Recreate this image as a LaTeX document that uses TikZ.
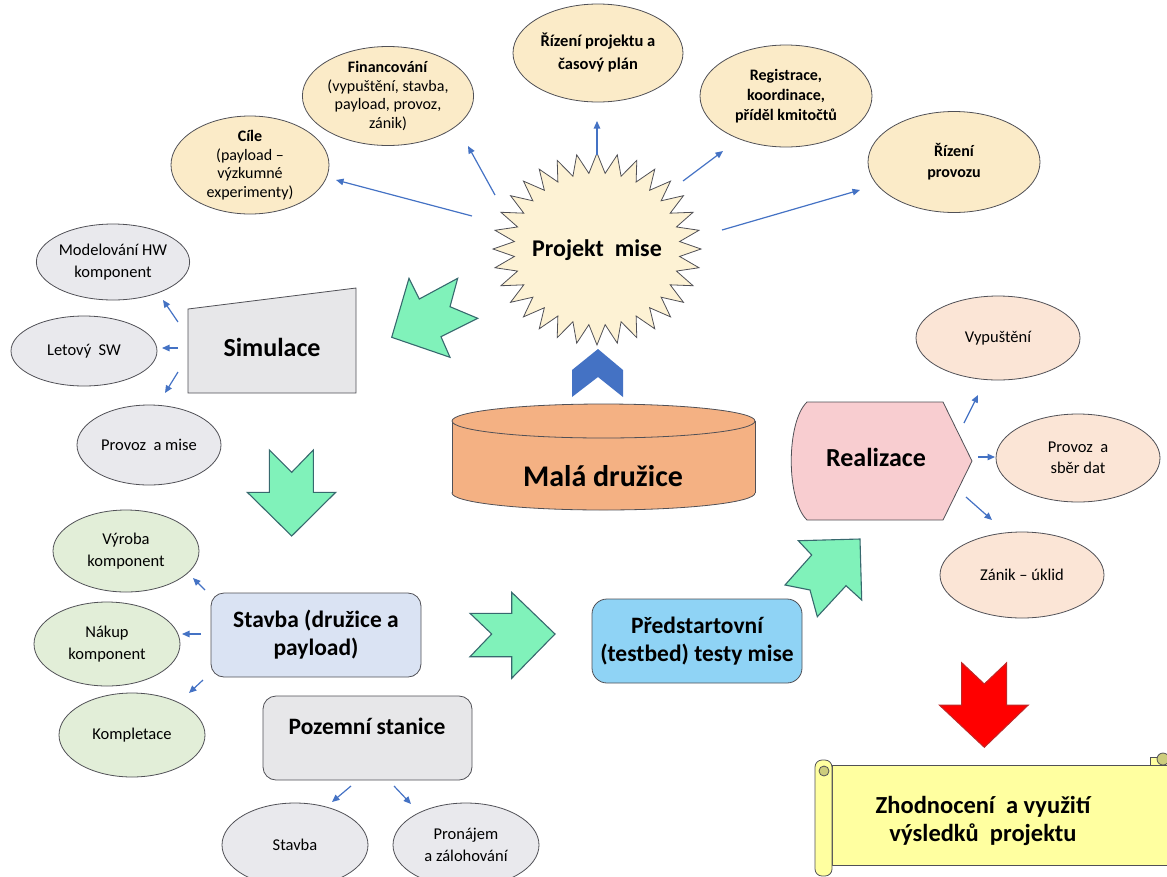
\documentclass[tikz,border=0pt]{standalone}
\usepackage{fontspec}
\setmainfont{Carlito}
\usetikzlibrary{shapes.geometric,arrows.meta}

\definecolor{ink}{RGB}{80,80,86}
\definecolor{pale}{RGB}{251,235,200}
\definecolor{starfill}{RGB}{253,242,212}
\definecolor{linkblue}{RGB}{68,114,196}
\definecolor{greyfill}{RGB}{233,233,237}
\definecolor{greenfill}{RGB}{226,238,216}
\definecolor{peach}{RGB}{251,229,214}
\definecolor{mint}{RGB}{128,242,186}
\definecolor{mintedge}{RGB}{55,105,110}
\definecolor{drum}{RGB}{244,177,131}
\definecolor{boxblue}{RGB}{218,227,243}
\definecolor{boxgrey}{RGB}{231,231,233}
\definecolor{sky}{RGB}{143,211,245}
\definecolor{rose}{RGB}{248,205,208}
\definecolor{scrollfill}{RGB}{255,255,160}
\definecolor{scrolldark}{RGB}{205,205,125}
\definecolor{alarm}{RGB}{255,0,0}
\definecolor{alarmedge}{RGB}{190,40,40}

\tikzset{
  oval/.style={ellipse, draw=ink, line width=0.8pt, inner sep=0pt, align=center},
  topoval/.style={oval, fill=pale, font=\fontsize{16}{18.5}\selectfont},
  greyoval/.style={oval, fill=greyfill, font=\fontsize{16.5}{22}\selectfont},
  greenoval/.style={oval, fill=greenfill, font=\fontsize{16.5}{22}\selectfont},
  peachoval/.style={oval, fill=peach, font=\fontsize{16.5}{21}\selectfont},
  panel/.style={draw=ink, line width=0.8pt, rounded corners=13pt, inner sep=0pt, align=center},
  biglabel/.style={font=\fontsize{23.5}{28}\selectfont\bfseries, align=center},
  link/.style={linkblue, line width=1.2pt, -{Triangle[length=7.5pt,width=6.5pt]}},
  notched/.style={fill=mint, draw=mintedge, line width=1.1pt, line join=miter},
}

\begin{document}
\begin{tikzpicture}[x=1pt,y=-1pt]
\useasboundingbox (0,0) rectangle (1167,876);
\clip (0,0) rectangle (1167,876);

% ---------- mission project (star) and its topics ----------
\draw[draw=ink, line width=0.8pt, fill=starfill, line join=miter]
  plot[samples=65, domain=0:64, variable=\k]
  ({597+(104-21*mod(round(\k),2))*cos(\k*5.625)},
   {249+(96-20*mod(round(\k),2))*sin(\k*5.625)}) -- cycle;
\node[font=\fontsize{24}{28}\selectfont\bfseries] (proj) at (597,250) {Projekt\ \ mise};

\node[topoval, minimum width=158pt, minimum height=94pt] (cile) at (250,165)
  {\textbf{Cíle}\\(payload –\\výzkumné\\experimenty)};
\node[topoval, minimum width=146pt, minimum height=99pt] (fin) at (388,96)
  {\textbf{Financování}\\(vypuštění, stavba,\\payload, provoz,\\zánik)};
\node[topoval, minimum width=170pt, minimum height=98pt, font=\fontsize{16.5}{23}\selectfont\bfseries] (rprj) at (598,53)
  {Řízení projektu a\\časový plán};
\node[topoval, minimum width=172pt, minimum height=102pt, font=\fontsize{16}{20}\selectfont\bfseries] (reg) at (786,96)
  {Registrace,\\koordinace,\\příděl kmitočtů};
\node[topoval, minimum width=172pt, minimum height=101pt, font=\fontsize{16}{21}\selectfont\bfseries] (rprov) at (954,162)
  {Řízení\\provozu};

\coordinate (s1) at (472,216); \coordinate (e1) at (336,180);
\coordinate (s2) at (495,195); \coordinate (e2) at (468,146);
\coordinate (s3) at (597,155); \coordinate (e3) at (597,121);
\coordinate (s4) at (683,181); \coordinate (e4) at (723,151);
\coordinate (s5) at (722,230); \coordinate (e5) at (860,190);
\draw[link] (s1) -- (e1);
\draw[link] (s2) -- (e2);
\draw[link] (s3) -- (e3);
\draw[link] (s4) -- (e4);
\draw[link] (s5) -- (e5);

% ---------- small satellite (drum) ----------
\fill[linkblue] (572,370) -- (598,349) -- (623,370) -- (623,397) -- (598,377) -- (572,397) -- cycle;
\draw[draw=ink, line width=0.8pt, fill=drum] (603.5,493) ellipse [x radius=151.5pt, y radius=17pt];
\fill[drum] (452,421) rectangle (755,493);
\draw[ink, line width=0.8pt] (452,421) -- (452,493) (755,421) -- (755,493);
\draw[draw=ink, line width=0.8pt, fill=drum] (603.5,421) ellipse [x radius=151.5pt, y radius=17pt];
\node[font=\fontsize{30}{34}\selectfont\bfseries] (sat) at (603,476) {Malá družice};

% ---------- simulation ----------
\draw[notched] (391.7,337.3) -- (409,278.3) -- (419.3,299) -- (457.7,278.3) -- (450,306.7)
  -- (477.7,318.3) -- (441,336.7) -- (450,357.3) -- cycle;
\draw[draw=ink, line width=0.8pt, fill=boxgrey] (188,309) -- (356,288) -- (356,393) -- (188,393) -- cycle;
\node[font=\fontsize{26}{30}\selectfont\bfseries] (sim) at (272,347) {Simulace};

\node[greyoval, minimum width=140pt, minimum height=76pt] (model) at (113,262) {Modelování HW\\komponent};
\node[greyoval, minimum width=146pt, minimum height=70pt] (letovy) at (84,351) {Letový\ \ SW};
\node[greyoval, minimum width=144pt, minimum height=80pt] (pmise) at (149,445) {Provoz\ \ a mise};

\coordinate (m1) at (178,322); \coordinate (n1) at (163,300);
\coordinate (m2) at (178,348); \coordinate (n2) at (162,348);
\coordinate (m3) at (178,372); \coordinate (n3) at (165,393);
\draw[link] (m1) -- (n1);
\draw[link] (m2) -- (n2);
\draw[link] (m3) -- (n3);

\draw[notched] (269.3,450) -- (291.7,472.3) -- (313.3,450) -- (313.3,492.3) -- (335.7,492.3)
  -- (291.7,536) -- (247.3,492.3) -- (269.3,492.3) -- cycle;

% ---------- construction ----------
\node[panel, fill=boxblue, minimum width=210pt, minimum height=84pt, biglabel] (stavba) at (316,635)
  {Stavba (družice a\\payload)};
\node[greenoval, minimum width=146pt, minimum height=82pt] (vyroba) at (126,551) {Výroba\\komponent};
\node[greenoval, minimum width=146pt, minimum height=84pt] (nakup) at (107,644) {Nákup\\komponent};
\node[greenoval, minimum width=146pt, minimum height=84pt] (kompl) at (132,735) {Kompletace};

\coordinate (b1) at (205,590); \coordinate (c1) at (193,578);
\coordinate (b2) at (201,634); \coordinate (c2) at (182,634);
\coordinate (b3) at (203,680); \coordinate (c3) at (189,693);
\draw[link] (b1) -- (c1);
\draw[link] (b2) -- (c2);
\draw[link] (b3) -- (c3);

% ---------- ground station ----------
\node[panel, fill=boxgrey, minimum width=209pt, minimum height=84pt] (pozemni) at (367.5,738) {};
\node[biglabel] (pozlabel) at (367,726) {Pozemní stanice};
\node[greyoval, minimum width=146pt, minimum height=84pt] (stavba2) at (295,845) {Stavba};
\node[greyoval, minimum width=146pt, minimum height=84pt] (pronajem) at (466,845) {Pronájem\\a zálohování};

\coordinate (g1) at (351,786); \coordinate (h1) at (332,802);
\coordinate (g2) at (394,786); \coordinate (h2) at (411,804);
\draw[link] (g1) -- (h1);
\draw[link] (g2) -- (h2);

% ---------- pre-launch tests ----------
\draw[notched] (470,613.3) -- (511.7,613.3) -- (511.7,592.3) -- (555,634) -- (511.7,678.3)
  -- (511.7,656.7) -- (470,656.7) -- (491.7,634) -- cycle;
\node[panel, fill=sky, rounded corners=15pt, minimum width=210pt, minimum height=84pt, biglabel] (testy) at (697,641)
  {Předstartovní\\(testbed) testy mise};
\draw[notched] (798.3,540.7) -- (860,539) -- (861.7,600) -- (846,585.7) -- (817.3,616.7)
  -- (810,590) -- (785,585) -- (811.7,555) -- cycle;

% ---------- realisation ----------
\draw[draw=ink, line width=0.8pt, fill=rose] (807,402) -- (943,402) -- (972,461) -- (943,520) -- (807,520)
  .. controls (786,500) and (786,422) .. (807,402) -- cycle;
\node[font=\fontsize{26}{30}\selectfont\bfseries] (real) at (876,457) {Realizace};

\node[peachoval, minimum width=164pt, minimum height=84pt] (vyp) at (998,338) {Vypuštění};
\node[peachoval, minimum width=164pt, minimum height=88pt] (sber) at (1078,458) {Provoz\ \ a\\sběr dat};
\node[peachoval, minimum width=164pt, minimum height=86pt] (zanik) at (1022,575) {Zánik – úklid};

\coordinate (r1) at (964,423); \coordinate (t1) at (978,395);
\coordinate (r2) at (978,457); \coordinate (t2) at (995,457);
\coordinate (r3) at (966,497); \coordinate (t3) at (992,520);
\draw[link] (r1) -- (t1);
\draw[link] (r2) -- (t2);
\draw[link] (r3) -- (t3);

% ---------- evaluation (scroll) ----------
\draw[fill=alarm, draw=alarmedge, line width=1pt, line join=miter]
  (961.7,662.7) -- (984.3,684) -- (1006.7,662.7) -- (1006.7,705) -- (1028.3,705)
  -- (984.3,747.3) -- (939.3,705) -- (961.7,705) -- cycle;

\draw[draw=ink, line width=0.8pt, fill=scrollfill] (1150,757) rectangle (1185,770);
\draw[draw=ink, line width=0.8pt, fill=scrollfill] (832,765) rectangle (1185,865);
\draw[draw=ink, line width=0.8pt, fill=scrollfill, rounded corners=7pt] (815,760) rectangle (832,876);
\draw[draw=ink, line width=0.8pt, fill=scrolldark] (824,771) circle (5pt);
\draw[draw=ink, line width=0.8pt, fill=scrolldark] (1163,759) circle (6pt);
\node[font=\fontsize{24.5}{28}\selectfont\bfseries, align=center] (eval) at (983,821)
  {Zhodnocení\ \ a využití\\výsledků\ \ projektu};

\end{tikzpicture}
\end{document}
